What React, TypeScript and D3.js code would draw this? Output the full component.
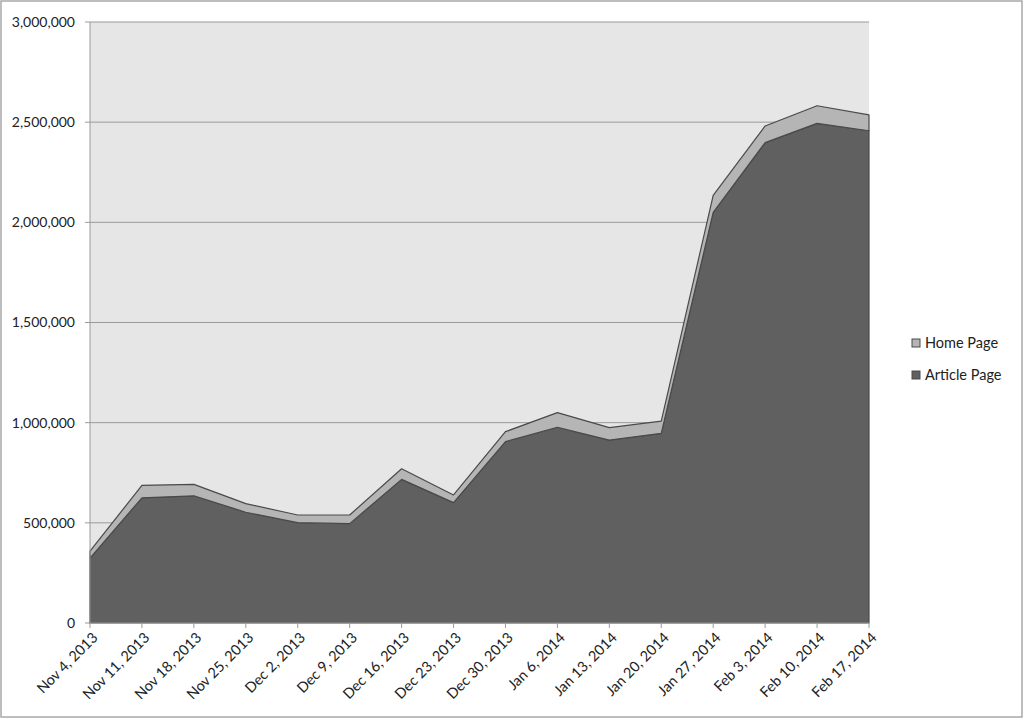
import React from "react";
import * as d3 from "d3";

const weeks = [
  "Nov 4, 2013", "Nov 11, 2013", "Nov 18, 2013", "Nov 25, 2013", "Dec 2, 2013",
  "Dec 9, 2013", "Dec 16, 2013", "Dec 23, 2013", "Dec 30, 2013", "Jan 6, 2014",
  "Jan 13, 2014", "Jan 20, 2014", "Jan 27, 2014", "Feb 3, 2014", "Feb 10, 2014",
  "Feb 17, 2014",
];
const articlePage = [
  324000, 625000, 635000, 553000, 501000, 496000, 717000, 601000, 905000, 977000,
  913000, 947000, 2050000, 2398000, 2494000, 2457000,
];
const homePage = [
  35000, 62000, 57000, 43000, 38000, 43000, 53000, 38000, 50000, 73000,
  62000, 61000, 85000, 83000, 88000, 79000,
];
const yTicks = [0, 500000, 1000000, 1500000, 2000000, 2500000, 3000000];
const seriesNames = ["Article Page", "Home Page"];
const seriesColors = ["#606060", "#b5b5b5"];

const W = 1024;
const H = 718;
const left = 90;
const right = 869;
const top = 22;
const bottom = 623;
const FONT = "Lato, 'Open Sans', sans-serif";

export default function App() {
  const x = d3.scalePoint<string>().domain(weeks).range([left, right]);
  const y = d3.scaleLinear().domain([0, 3000000]).range([bottom, top]);

  const rows = weeks.map((w, i) => ({ week: w, article: articlePage[i], home: homePage[i] }));
  const stack = d3.stack<any>().keys(["article", "home"]);
  const layers = stack(rows);

  const area = d3
    .area<any>()
    .x((d) => x(d.data.week) as number)
    .y0((d) => y(d[0]))
    .y1((d) => y(d[1]));

  const fmt = d3.format(",");

  return (
    <svg
      width={W}
      height={H}
      style={{ position: "absolute", left: 0, top: 0, background: "#fff" }}
      fontFamily={FONT}
    >
      <rect x={1} y={1} width={1021} height={716} fill="#fff" stroke="#a8a8a8" strokeWidth={1.5} />
      <rect x={left} y={top} width={right - left} height={bottom - top} fill="#e6e6e6" />
      {yTicks.map((t) => (
        <g key={t}>
          {t > 0 && (
            <line x1={left} x2={right} y1={y(t)} y2={y(t)} stroke="#9a9a9a" strokeWidth={1} />
          )}
          <line x1={left - 5} x2={left} y1={y(t)} y2={y(t)} stroke="#9a9a9a" strokeWidth={1} />
          <text x={75} y={y(t)} dy="0.35em" textAnchor="end" fontSize={14} fill="#222">
            {fmt(t)}
          </text>
        </g>
      ))}
      {layers.map((layer, i) => (
        <path
          key={i}
          d={area(layer) as string}
          fill={seriesColors[i]}
          stroke="#4a4a4a"
          strokeWidth={1.2}
          strokeLinejoin="round"
        />
      ))}
      <line x1={left} x2={left} y1={top} y2={bottom} stroke="#9a9a9a" strokeWidth={1} />
      <line x1={left} x2={right} y1={bottom} y2={bottom} stroke="#9a9a9a" strokeWidth={1} />
      {weeks.map((w) => {
        const xx = x(w) as number;
        return (
          <g key={w}>
            <line x1={xx} x2={xx} y1={bottom} y2={bottom + 5} stroke="#9a9a9a" strokeWidth={1} />
            <text
              transform={`translate(${xx + 5},${bottom + 12}) rotate(-45)`}
              textAnchor="end"
              fontSize={14.5}
              dy="0.35em"
              fill="#222"
            >
              {w}
            </text>
          </g>
        );
      })}
      {[1, 0].map((si, k) => (
        <g key={si} transform={`translate(912,${339 + k * 32})`}>
          <rect x={0} y={0} width={8} height={8} fill={seriesColors[si]} stroke="#4a4a4a" strokeWidth={1} />
          <text x={13} y={4} dy="0.35em" fontSize={14.5} fill="#222">
            {seriesNames[si]}
          </text>
        </g>
      ))}
    </svg>
  );
}
